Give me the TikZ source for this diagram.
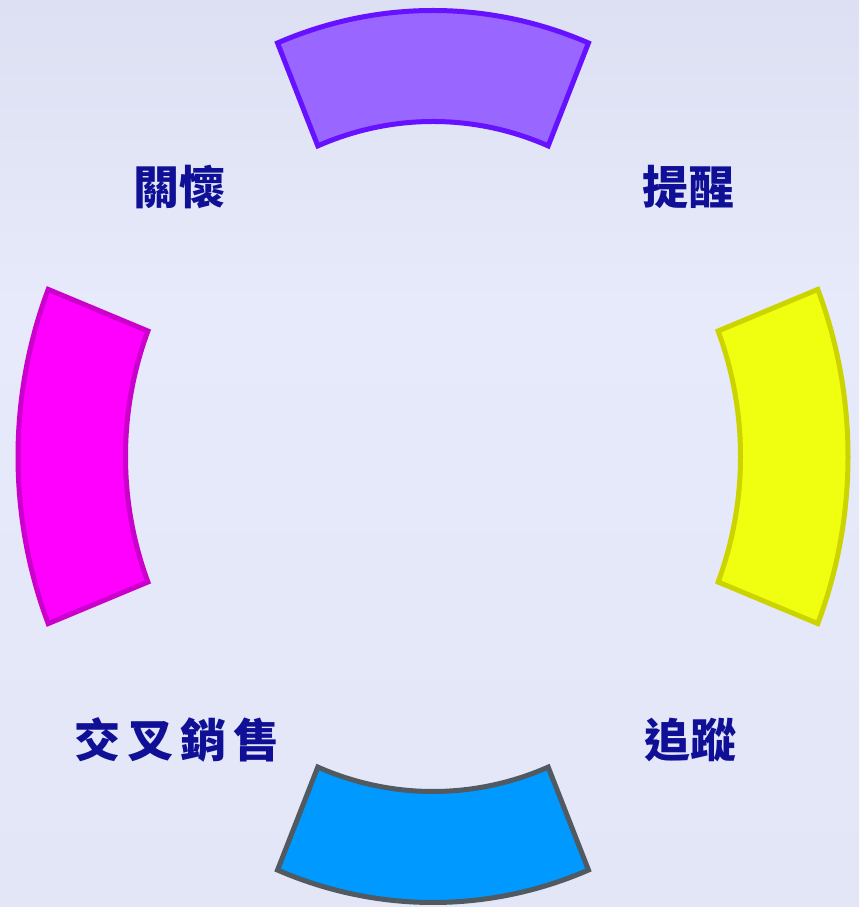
\documentclass[tikz,border=0pt]{standalone}
\usepackage{fontspec}
\newfontfamily\cjk{Noto Sans CJK TC}
\usetikzlibrary{calc}
\definecolor{bgtop}{RGB}{220,224,242}
\definecolor{bgmid}{RGB}{230,234,250}
\definecolor{bgbot}{RGB}{226,230,247}
\definecolor{txtblue}{RGB}{16,16,150}
\definecolor{purfill}{RGB}{153,102,255}
\definecolor{purline}{RGB}{102,17,255}
\definecolor{magfill}{RGB}{255,0,255}
\definecolor{magline}{RGB}{204,0,204}
\definecolor{yelfill}{RGB}{240,255,16}
\definecolor{yelline}{RGB}{204,212,0}
\definecolor{blufill}{RGB}{0,153,255}
\definecolor{bluline}{RGB}{80,90,96}
\tikzset{
  seg/.style={line width=5pt, line join=miter},
  lbl/.style={text=txtblue, font=\cjk\bfseries\fontsize{46}{50}\selectfont, inner sep=0pt}
}
\newcommand{\sector}[4]{%
  % #1 start angle, #2 end angle, #3 fill, #4 line
  \draw[seg, fill=#3, draw=#4]
    (#1:415pt and 446pt) arc[start angle=#1, end angle=#2, x radius=415pt, y radius=446pt]
    -- (#2:307.5pt and 335pt) arc[start angle=#2, end angle=#1, x radius=307.5pt, y radius=335pt]
    -- cycle;}
\begin{document}
\begin{tikzpicture}[x=1pt,y=1pt]
\useasboundingbox (0,0) rectangle (859,907);
\shade[top color=bgtop, bottom color=bgmid] (0,600) rectangle (859,907);
\shade[top color=bgmid, bottom color=bgbot] (0,0) rectangle (859,600);
\begin{scope}[shift={(433,450.5)}]
  \sector{68}{112}{purfill}{purline}
  \sector{158}{202}{magfill}{magline}
  \sector{-22}{22}{yelfill}{yelline}
  \sector{248}{292}{blufill}{bluline}
\end{scope}
\node[lbl] (guanhuai) at (179,720) {關懷};
\node[lbl] (tixing) at (688,720) {提醒};
\node[lbl] (jiaocha) at (177,167) {交\hspace{7pt}叉\hspace{7pt}銷\hspace{7pt}售};
\node[lbl] (zhuizong) at (690,167) {追蹤};
\end{tikzpicture}
\end{document}
